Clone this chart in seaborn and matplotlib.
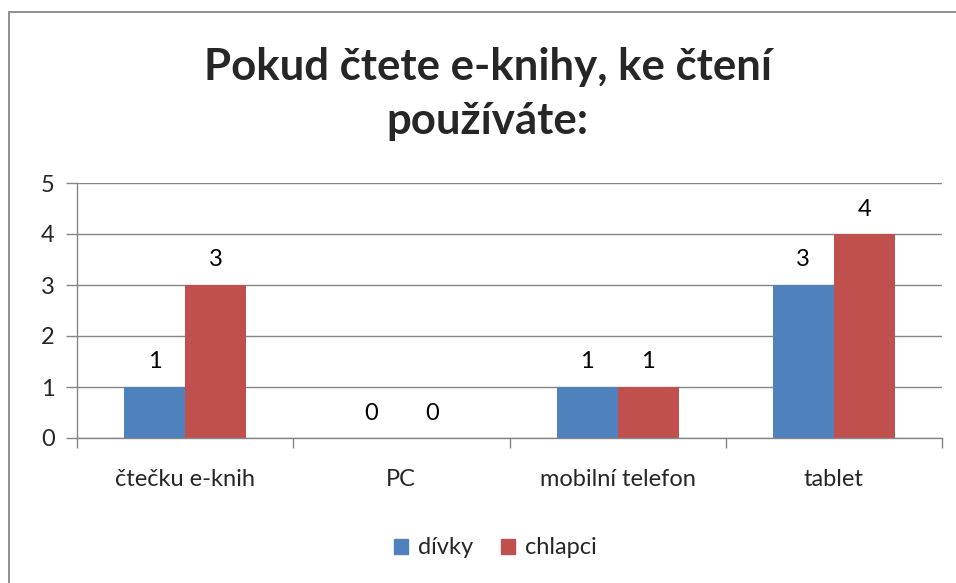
import matplotlib
matplotlib.use("Agg")
import matplotlib.pyplot as plt
import matplotlib.patches as mpatches
import seaborn as sns
import pandas as pd

categories = ["čtečku e-knih", "PC", "mobilní telefon", "tablet"]
divky = [1, 0, 1, 3]
chlapci = [3, 0, 1, 4]
series_names = ["dívky", "chlapci"]
colors = ["#4F81BD", "#C0504D"]
title = "Pokud čtete e-knihy, ke čtení\npoužíváte:"

df = pd.DataFrame({
    "kat": categories * 2,
    "pocet": divky + chlapci,
    "skupina": [series_names[0]] * len(categories) + [series_names[1]] * len(categories),
})

sns.set_theme(style="white")
plt.rcParams["font.family"] = ["Lato", "DejaVu Sans"]

fig = plt.figure(figsize=(9.56, 5.83), dpi=100)
ax = fig.add_axes([77 / 956, 1 - 438 / 583, 865 / 956, 255 / 583])

sns.barplot(data=df, x="kat", y="pocet", hue="skupina", palette=colors,
            width=0.565, ax=ax, legend=False, saturation=1, linewidth=0)

ax.set_ylim(0, 5)
ax.set_xlim(-0.5, len(categories) - 0.5)
ax.set_yticks(range(6))
ax.yaxis.grid(True, color="#868686", linewidth=1)
ax.set_axisbelow(True)
ax.set_xlabel("")
ax.set_ylabel("")
for s in ["top", "right"]:
    ax.spines[s].set_visible(False)
for s in ["left", "bottom"]:
    ax.spines[s].set_color("#868686")
    ax.spines[s].set_linewidth(1)

fs = 17
ax.tick_params(axis="y", which="major", length=8, color="#868686", width=1,
               labelsize=fs, pad=8, left=True)
ax.tick_params(axis="x", which="major", length=0, labelsize=fs, pad=22)
ax.set_xticks(range(len(categories)))
ax.set_xticklabels(categories)
ax.set_xticks([i - 0.5 for i in range(len(categories) + 1)], minor=True)
ax.tick_params(axis="x", which="minor", length=7, color="#868686", width=1, bottom=True)

for cont in ax.containers:
    for bar in cont:
        h = bar.get_height()
        ax.annotate(f"{int(h)}", (bar.get_x() + bar.get_width() / 2, h),
                    xytext=(0, 18), textcoords="offset points",
                    ha="center", va="center", fontsize=fs, color="#000000")

fig.text(0.51, 1 - 94 / 583, title, ha="center", va="center", fontsize=31.5,
         fontweight="bold", linespacing=1.4)

handles = [mpatches.Patch(color=c, label=n) for c, n in zip(colors, series_names)]
fig.legend(handles=handles, loc="center", bbox_to_anchor=(0.518, 1 - 548 / 583),
           ncol=2, frameon=False, fontsize=fs, handlelength=0.6, handleheight=0.6,
           handletextpad=0.4, columnspacing=1.2)

border = mpatches.Rectangle((9 / 956, -0.1), 1.2, 1 - 12 / 583 + 0.1,
                            transform=fig.transFigure, fill=False,
                            edgecolor="#868686", linewidth=1.3)
fig.add_artist(border)

fig.savefig("out.png", dpi=100)
